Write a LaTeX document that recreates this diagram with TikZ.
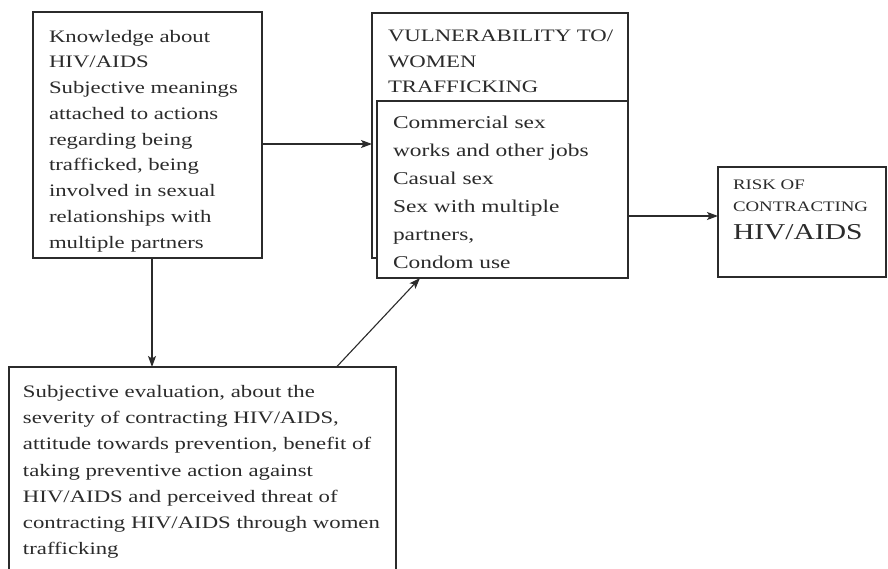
\documentclass[tikz,border=0pt]{standalone}
\usepackage{fontspec}
\setmainfont[FakeStretch=1.3]{Liberation Serif}
\usetikzlibrary{arrows.meta}
\definecolor{ink}{HTML}{2B2B2B}
\begin{document}
\begin{tikzpicture}[x=1pt,y=-1pt,
  box/.style={draw=ink, line width=1.1pt, inner sep=0pt, outer sep=0pt, anchor=north west, fill=white},
  txt/.style={text=ink, inner sep=0pt, outer sep=0pt, anchor=north west, align=left},
  arr/.style={draw=ink, line width=1.1pt, -{Stealth[length=11pt,width=8pt,inset=2.5pt]}}]
\useasboundingbox (0,0) rectangle (888,569);
\fill[white] (0,0) rectangle (888,569);
\clip (0,0) rectangle (888,569);

% Knowledge box
\node[box, minimum width=229pt, minimum height=246pt] (A) at (33,12) {};
\node[txt, font=\fontsize{17.5pt}{25.75pt}\selectfont] (At) at (49,30) {Knowledge about\\HIV/AIDS\\Subjective meanings\\attached to actions\\regarding being\\trafficked, being\\involved in sexual\\relationships with\\multiple partners};

% Vulnerability boxes
\node[box, minimum width=256pt, minimum height=245pt] (Vo) at (372,13) {};
\node[box, minimum width=251pt, minimum height=177pt] (Vi) at (377,101) {};
\node[txt, font=\fontsize{17.5pt}{25.5pt}\selectfont] (Vt) at (388,30) {VULNERABILITY TO/\\WOMEN\\TRAFFICKING};
\node[txt, font=\fontsize{18pt}{28pt}\selectfont] (Vit) at (393,116) {Commercial sex\\works and other jobs\\Casual sex\\Sex with multiple\\partners,\\Condom use};

% Risk box
\node[box, minimum width=168pt, minimum height=110pt] (R) at (718,167) {};
\node[txt, font=\fontsize{14.5pt}{22pt}\selectfont] (Rt) at (733,179.5) {RISK OF\\CONTRACTING};
\node[txt, anchor=base west, font=\fontsize{22.7pt}{26pt}\selectfont] (Rh) at (733,240) {HIV/AIDS};

% Evaluation box
\node[box, minimum width=387pt, minimum height=210pt] (B) at (9,367) {};
\node[txt, font=\fontsize{17.5pt}{26.3pt}\selectfont] (Bt) at (23,385) {Subjective evaluation, about the\\severity of contracting HIV/AIDS,\\attitude towards prevention, benefit of\\taking preventive action against\\HIV/AIDS and perceived threat of\\contracting HIV/AIDS through women\\trafficking};

% Connectors
\draw[arr] ([yshift=-9pt]A.east) -- ([yshift=-9pt]A.east -| Vo.west);
\draw[arr] ([xshift=4.5pt]A.south) -- ([xshift=4.5pt]A.south |- B.north);
\draw[arr] ([xshift=134pt]B.north) -- ([xshift=-82.5pt]Vi.south);
\draw[arr] ([yshift=-26.5pt]Vi.east) -- ([yshift=-26.5pt]Vi.east -| R.west);
\end{tikzpicture}
\end{document}
